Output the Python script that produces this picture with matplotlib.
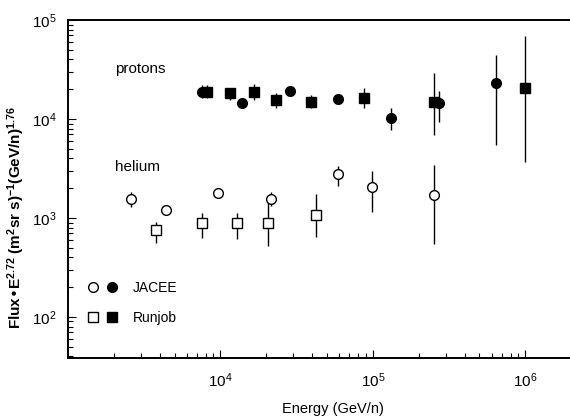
import matplotlib
matplotlib.use("Agg")
import matplotlib.pyplot as plt
from matplotlib.lines import Line2D
from matplotlib.legend_handler import HandlerTuple
from matplotlib.ticker import LogLocator, NullFormatter
import numpy as np

plt.rcParams['font.family'] = ['Liberation Sans', 'DejaVu Sans']
plt.rcParams['mathtext.default'] = 'regular'

# protons, JACEE (filled circles)
p_jacee_e = [7.6e3, 1.39e4, 2.88e4, 5.94e4, 1.32e5, 2.73e5, 6.46e5]
p_jacee_f = [1.87e4, 1.45e4, 1.92e4, 1.59e4, 1.02e4, 1.45e4, 2.31e4]
p_jacee_lo = [1.63e4, 1.45e4, 1.92e4, 1.59e4, 7.7e3, 9.3e3, 5.5e3]
p_jacee_hi = [2.20e4, 1.45e4, 1.92e4, 1.59e4, 1.29e4, 1.92e4, 4.4e4]

# protons, Runjob (filled squares)
p_runjob_e = [8.2e3, 1.15e4, 1.67e4, 2.33e4, 3.95e4, 8.8e4, 2.53e5, 1.0e6]
p_runjob_f = [1.87e4, 1.83e4, 1.87e4, 1.56e4, 1.49e4, 1.63e4, 1.49e4, 2.06e4]
p_runjob_lo = [1.63e4, 1.56e4, 1.56e4, 1.29e4, 1.29e4, 1.29e4, 6.9e3, 3.7e3]
p_runjob_hi = [2.20e4, 2.06e4, 2.26e4, 1.83e4, 1.75e4, 2.06e4, 2.92e4, 6.9e4]

# helium, JACEE (open circles)
he_jacee_e = [2.6e3, 4.4e3, 9.7e3, 2.16e4, 5.94e4, 9.8e4, 2.53e5]
he_jacee_f = [1.56e3, 1.21e3, 1.79e3, 1.56e3, 2.78e3, 2.06e3, 1.71e3]
he_jacee_lo = [1.29e3, 1.21e3, 1.79e3, 1.32e3, 2.10e3, 1.15e3, 545]
he_jacee_hi = [1.83e3, 1.21e3, 1.79e3, 1.83e3, 3.35e3, 2.98e3, 3.43e3]

# helium, Runjob (open squares)
he_runjob_e = [3.8e3, 7.6e3, 1.29e4, 2.06e4, 4.26e4]
he_runjob_f = [757, 889, 889, 889, 1.07e3]
he_runjob_lo = [558, 628, 613, 521, 643]
he_runjob_hi = [912, 1.12e3, 1.12e3, 1.42e3, 1.75e3]


def yerr(f, lo, hi):
    f = np.array(f)
    return [f - np.array(lo), np.array(hi) - f]


fig = plt.figure(figsize=(5.7, 4.2), dpi=100)
ax = fig.add_axes([68 / 570, 62 / 420, 518 / 570, 338 / 420])

ms = 7
ebar = dict(ecolor='black', elinewidth=1.0, capsize=0, linestyle='none')
ax.errorbar(he_runjob_e, he_runjob_f, yerr=yerr(he_runjob_f, he_runjob_lo, he_runjob_hi),
            marker='s', ms=ms, mfc='white', mec='black', mew=1.0, **ebar)
ax.errorbar(he_jacee_e, he_jacee_f, yerr=yerr(he_jacee_f, he_jacee_lo, he_jacee_hi),
            marker='o', ms=ms, mfc='white', mec='black', mew=1.0, **ebar)
ax.errorbar(p_runjob_e, p_runjob_f, yerr=yerr(p_runjob_f, p_runjob_lo, p_runjob_hi),
            marker='s', ms=ms, mfc='black', mec='black', **ebar)
ax.errorbar(p_jacee_e, p_jacee_f, yerr=yerr(p_jacee_f, p_jacee_lo, p_jacee_hi),
            marker='o', ms=ms, mfc='black', mec='black', **ebar)

ax.set_xscale('log')
ax.set_yscale('log')
ax.set_xlim(1e3, 2.5e6)
ax.set_ylim(38.5, 1e5)

ax.set_xticks([1e4, 1e5, 1e6])
ax.xaxis.set_minor_locator(LogLocator(base=10, subs=np.arange(2, 10), numticks=20))
ax.yaxis.set_minor_locator(LogLocator(base=10, subs=np.arange(2, 10), numticks=20))
ax.xaxis.set_minor_formatter(NullFormatter())
ax.yaxis.set_minor_formatter(NullFormatter())

ax.tick_params(which='both', direction='in', top=False, right=False, labelsize=11, width=0.8)
ax.tick_params(which='major', length=6)
ax.tick_params(which='minor', length=3.5)
ax.tick_params(axis='y', pad=8)
ax.tick_params(axis='x', pad=10)
for s in ax.spines.values():
    s.set_linewidth(1.4)

ax.set_xlabel('Energy (GeV/n)', fontsize=10.5)
ax.xaxis.set_label_coords((333 - 68) / 518, -0.13)
ax.set_ylabel('Flux\u2022E$^{2.72}$ (m$^2$sr s)$^{-1}$(GeV/n)$^{1.76}$', fontsize=11,
              fontweight='bold')
ax.yaxis.set_label_coords(-0.079, (358 - 218) / 338)

ax.text(0.091, 0.855, 'protons', transform=ax.transAxes, fontsize=11, va='center')
ax.text(0.091, 0.565, 'helium', transform=ax.transAxes, fontsize=11, va='center')

# legend: open and filled marker side by side for each experiment
kw = dict(linestyle='none', ms=ms, mec='black')
jacee = (Line2D([], [], marker='o', mfc='white', **kw), Line2D([], [], marker='o', mfc='black', **kw))
runjob = (Line2D([], [], marker='s', mfc='white', **kw), Line2D([], [], marker='s', mfc='black', **kw))
ax.legend([jacee, runjob], ['JACEE', 'Runjob'],
          handler_map={tuple: HandlerTuple(ndivide=None, pad=0.65)},
          handlelength=2.1, handletextpad=1.1, labelspacing=1.15,
          loc='upper left', bbox_to_anchor=(0.0386, 0.228),
          frameon=False, borderpad=0, borderaxespad=0, fontsize=10)

fig.savefig('out.png', dpi=100)
